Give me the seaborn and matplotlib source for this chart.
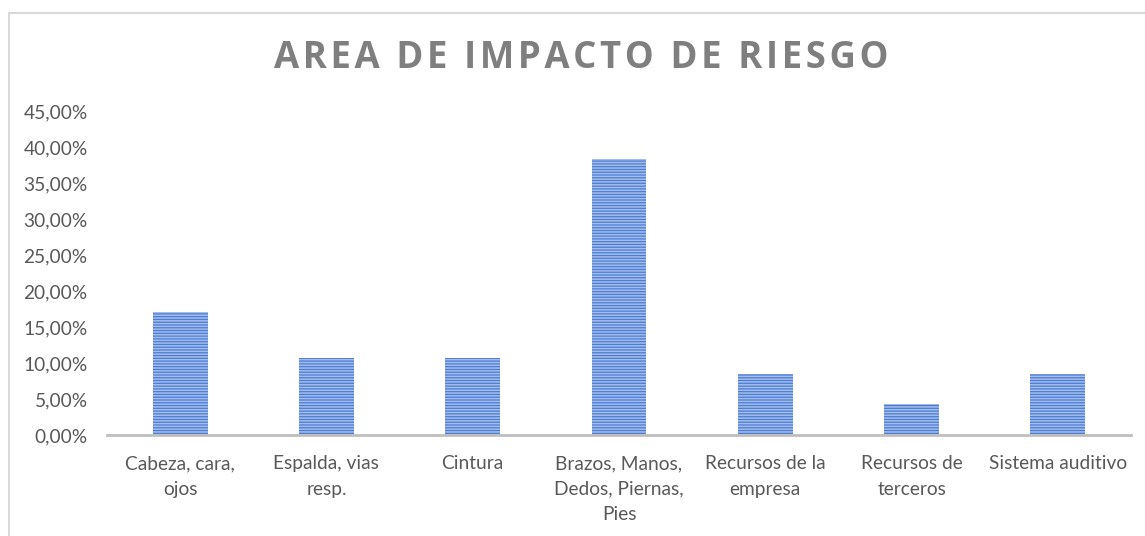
import matplotlib
matplotlib.use("Agg")
import matplotlib.pyplot as plt
import seaborn as sns
import pandas as pd
import numpy as np
from matplotlib.patches import Rectangle
from matplotlib.ticker import FuncFormatter, FixedLocator

categories = ["Cabeza, cara,\nojos", "Espalda, vias\nresp.", "Cintura",
              "Brazos, Manos,\nDedos, Piernas,\nPies", "Recursos de la\nempresa",
              "Recursos de\nterceros", "Sistema auditivo"]
values = [0.1702, 0.1064, 0.1064, 0.3830, 0.0851, 0.0426, 0.0851]
title = "AREA DE IMPACTO DE RIESGO"

sns.set_theme(style="white")
plt.rcParams['font.family'] = ['Lato', 'DejaVu Sans']
plt.rcParams['hatch.linewidth'] = 1.1
plt.rcParams['hatch.color'] = '#a3bdeb'

df = pd.DataFrame({"cat": categories, "val": values})

fig = plt.figure(figsize=(11.45, 5.36), dpi=100)
ax = fig.add_axes([107/1145, 1-435/536, (1131-107)/1145, (435-111)/536])

sns.barplot(data=df, x="cat", y="val", ax=ax, color="#4d7cd3", width=0.375,
            saturation=1)
for p in ax.patches:
    p.set_hatch('------')
    p.set_edgecolor('#a3bdeb')
    p.set_linewidth(0)

ax.set_ylim(0, 0.45)
ax.set_xlim(-0.5, 6.5)
ax.set_yticks(np.arange(0, 0.451, 0.05))
ax.yaxis.set_major_formatter(FuncFormatter(lambda v, p: f"{v*100:.2f}%".replace('.', ',')))
ax.tick_params(axis='y', labelsize=13.8, labelcolor='#595959', length=0, pad=14)
ax.tick_params(axis='x', labelsize=13.8, labelcolor='#595959', length=0, pad=14.5)
for lbl in ax.get_xticklabels():
    lbl.set_linespacing(1.6)
ax.xaxis.set_minor_locator(FixedLocator(np.arange(-0.5, 7, 1)))
ax.tick_params(axis='x', which='minor', length=6, width=2, color='#bfbfbf', direction='out')
ax.set_xlabel("")
ax.set_ylabel("")
for s in ['top', 'right', 'left']:
    ax.spines[s].set_visible(False)
ax.spines['bottom'].set_color('#bfbfbf')
ax.spines['bottom'].set_linewidth(2)
ax.grid(False)

spaced_title = "\u200a".join(title)
fig.text(581/1145, 1-58/536, spaced_title, ha='center', va='center', fontsize=26.3,
         fontweight='bold', color='#7f7f7f', family=['Open Sans', 'DejaVu Sans'])

fig.patches.append(Rectangle((9/1145, -0.1), 1.2, 1-13/536+0.1, transform=fig.transFigure,
                             fill=False, edgecolor='#d9d9d9', linewidth=1.5))

fig.savefig("out.png", dpi=100)
